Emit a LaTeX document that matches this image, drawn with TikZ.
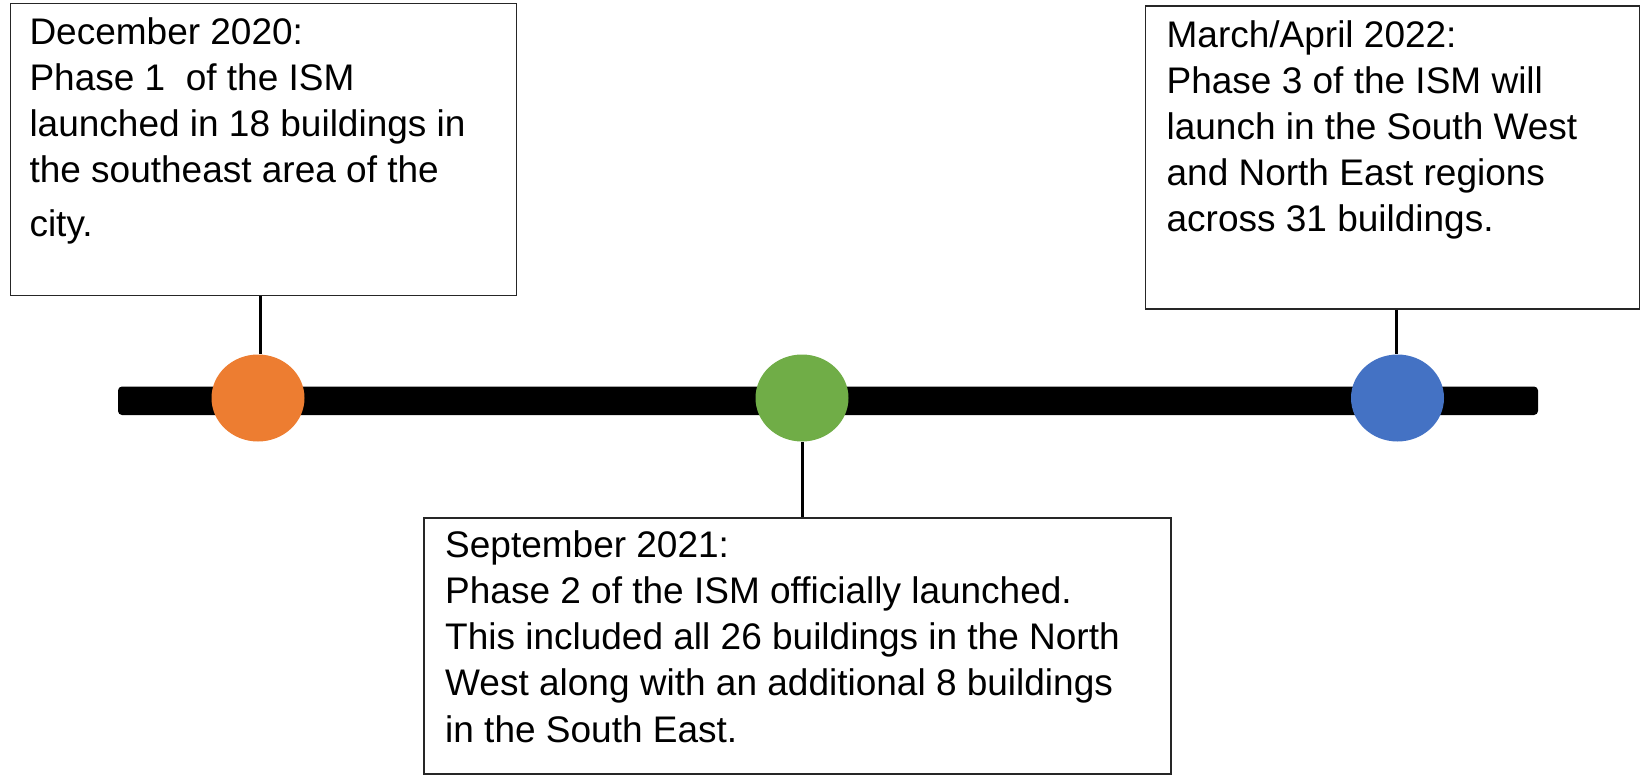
\documentclass[tikz,border=0pt]{standalone}
\usepackage{fontspec}
\setmainfont{Liberation Sans}
\usetikzlibrary{shapes.geometric}
\definecolor{phaseorange}{HTML}{ED7D31}
\definecolor{phasegreen}{HTML}{70AD47}
\definecolor{phaseblue}{HTML}{4472C4}
\begin{document}
\begin{tikzpicture}[x=1pt,y=-1pt,
  infobox/.style={draw=black!85,line width=1.6pt},
  infotext/.style={anchor=base west,align=left,inner sep=0pt,
    font=\fontsize{37}{46.2}\selectfont},
  dot/.style={ellipse,minimum width=93pt,minimum height=87pt,inner sep=0pt},
  link/.style={line width=3pt}]
\useasboundingbox (0,0) rectangle (1648,775);
% timeline bar
\fill[black,rounded corners=4pt] (118,386.5) rectangle (1538,415);
% boxes
\node[infobox,inner sep=0pt,minimum width=506pt,minimum height=292pt,anchor=north west] (box1) at (9.6,2.8) {};
\node[infobox,inner sep=0pt,minimum width=494pt,minimum height=303pt,anchor=north west] (box3) at (1144.7,5) {};
\node[infobox,inner sep=0pt,minimum width=747pt,minimum height=256pt,anchor=north west] (box2) at (423,517) {};
% dots
\node[dot,fill=phaseorange] (d1) at (258,398) {};
\node[dot,fill=phasegreen] (d2) at (802,398) {};
\node[dot,fill=phaseblue] (d3) at (1397.5,398) {};
% connectors
\draw[link] (box1.south -| 260.7,0) -- (d1.north -| 260.7,0);
\draw[link] (box3.south -| 1396,0) -- (d3.north -| 1396,0);
\draw[link] (d2.south) -- (d2.south |- box2.north);
% texts (base anchor = baseline of last line)
\node[infotext] (t1) at (29.3,237) {December 2020:\\Phase 1 \ of the ISM\\launched in 18 buildings in\\the southeast area of the\\[8pt]city.};
\node[infotext] (t3) at (1166.4,232) {March/April 2022:\\Phase 3 of the ISM will\\launch in the South West\\and North East regions\\across 31 buildings.};
\node[infotext] (t2) at (445,742) {September 2021:\\Phase 2 of the ISM officially launched.\\This included all 26 buildings in the North\\West along with an additional 8 buildings\\in the South East.};
\end{tikzpicture}
\end{document}
